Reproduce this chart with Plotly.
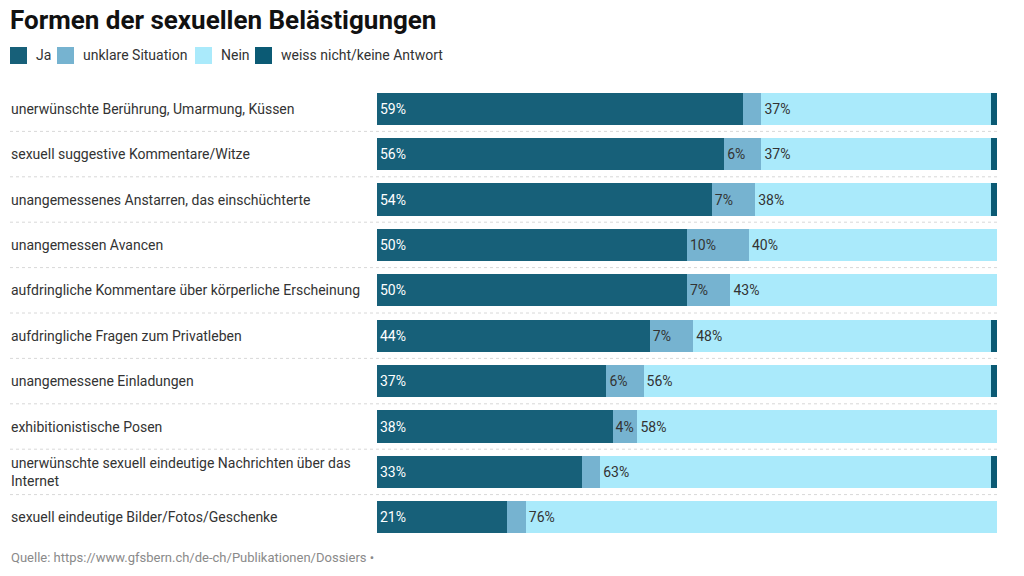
import plotly.graph_objects as go

categories = [
    "unerwünschte Berührung, Umarmung, Küssen",
    "sexuell suggestive Kommentare/Witze",
    "unangemessenes Anstarren, das einschüchterte",
    "unangemessen Avancen",
    "aufdringliche Kommentare über körperliche Erscheinung",
    "aufdringliche Fragen zum Privatleben",
    "unangemessene Einladungen",
    "exhibitionistische Posen",
    "unerwünschte sexuell eindeutige Nachrichten über das<br>Internet",
    "sexuell eindeutige Bilder/Fotos/Geschenke",
]
ja = [59, 56, 54, 50, 50, 44, 37, 38, 33, 21]
unklar = [3, 6, 7, 10, 7, 7, 6, 4, 3, 3]
nein = [37, 37, 38, 40, 43, 48, 56, 58, 63, 76]
weiss = [1, 1, 1, 0, 0, 1, 1, 0, 1, 0]

series_names = ["Ja", "unklare Situation", "Nein", "weiss nicht/keine Antwort"]
series_values = [ja, unklar, nein, weiss]
series_colors = ["#176079", "#76b3d0", "#aaeafb", "#0b5a74"]
text_colors = ["#ffffff", "#333333", "#333333", "#ffffff"]

FONT = "Roboto, 'Noto Sans', sans-serif"
W, H = 1024, 576
L, R, T, B = 377, 27, 86, 36
pw = W - L - R
ph = H - T - B
xp = lambda px: (px - L) / pw
yp = lambda py: (H - B - py) / ph

fig = go.Figure()
ypos = list(range(len(categories)))
for name, vals, color, tcol in zip(series_names, series_values, series_colors, text_colors):
    fig.add_trace(go.Bar(
        name=name, y=ypos, x=vals, orientation="h",
        marker=dict(color=color, line=dict(width=0)),
        text=[f"{v}%" if v >= 4 else "" for v in vals],
        textposition="inside", insidetextanchor="start",
        textfont=dict(color=tcol, size=14, family=FONT),
        constraintext="none",
        hoverinfo="skip",
        showlegend=False,
    ))

annotations = []
shapes = []
for i, c in enumerate(categories):
    annotations.append(dict(
        x=xp(8.5), xref="paper", y=i, yref="y", text=c, showarrow=False,
        xanchor="left", yanchor="middle", align="left",
        font=dict(size=14, color="#333333", family=FONT),
    ))
annotations.append(dict(
    x=xp(8.5), xref="paper", y=yp(557), yref="paper",
    text="Quelle: https://www.gfsbern.ch/de-ch/Publikationen/Dossiers •",
    showarrow=False, xanchor="left", yanchor="middle",
    font=dict(size=13, color="#8a8a8a", family=FONT),
))

# manual legend (layout positions in pixels)
legend_swatch_x = [10, 57, 195, 255]
for sx, name, color in zip(legend_swatch_x, series_names, series_colors):
    shapes.append(dict(
        type="rect", xref="paper", yref="paper",
        x0=xp(sx), x1=xp(sx + 17), y0=yp(64), y1=yp(47),
        fillcolor=color, line=dict(width=0),
    ))
    annotations.append(dict(
        x=xp(sx + 24), xref="paper", y=yp(55.5), yref="paper",
        text=name, showarrow=False, xanchor="left", yanchor="middle",
        font=dict(size=14, color="#333333", family=FONT),
    ))

for i in range(len(categories) - 1):
    shapes.append(dict(
        type="line", xref="paper", yref="y", x0=xp(10), x1=1,
        y0=i + 0.5, y1=i + 0.5,
        line=dict(color="#d8d8d8", width=1, dash="dot"),
    ))

fig.update_layout(
    barmode="stack", bargap=0.29,
    width=W, height=H,
    margin=dict(l=L, r=R, t=T, b=B, autoexpand=False),
    paper_bgcolor="white", plot_bgcolor="white",
    font=dict(family=FONT, color="#333333"),
    title=dict(text="<b>Formen der sexuellen Belästigungen</b>",
               x=10 / W, xanchor="left", y=1 - 20 / H, yanchor="middle",
               font=dict(size=26, color="#111111", family=FONT)),
    xaxis=dict(range=[0, 100], visible=False, fixedrange=True),
    yaxis=dict(autorange="reversed", visible=False, fixedrange=True),
    annotations=annotations, shapes=shapes,
    showlegend=False,
)

fig.write_html("out.html", config={"displayModeBar": False})
